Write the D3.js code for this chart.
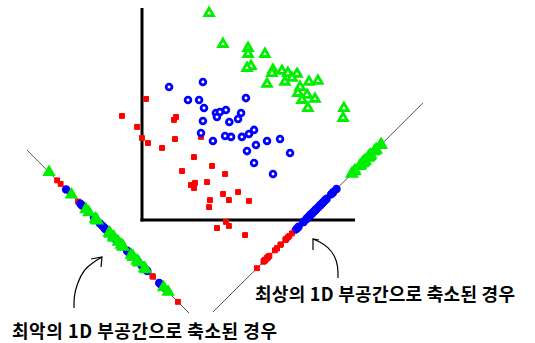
<!DOCTYPE html>
<html>
<head>
<meta charset="utf-8">
<script src="https://cdn.jsdelivr.net/npm/d3@7"></script>
<style>
body{margin:0;background:#fff;}
</style>
</head>
<body>
<div id="container"></div>
<script>
let w = 535;
let h = 343;

// class 1 (red crosses)
let redX = [0.19,-0.94,1.60,1.50,-0.23,0.00,0.28,0.94,1.55,2.77,2.44,3.29,1.88,3.90,2.49,2.30,2.44,3.05,3.80,4.51,3.19,4.08,5.02,3.15,3.94,4.08,3.52,4.84];
let redY = [5.71,4.91,4.86,4.72,4.39,3.87,3.63,3.40,3.82,3.92,2.97,2.55,2.31,2.17,1.75,1.65,1.51,1.79,1.23,1.32,0.94,0.94,0.90,0.61,-0.09,-0.28,-0.38,-0.71];

// class 2 (blue circles)
let blueX = [1.27,2.86,2.16,2.68,2.91,4.88,3.47,3.52,3.66,3.94,4.65,4.51,2.86,4.10,2.77,3.33,3.90,4.18,4.69,5.02,5.26,4.93,5.35,5.87,6.48,6.95,5.26,6.15];
let blueY = [6.27,6.51,5.66,5.66,5.28,5.75,5.05,4.86,5.09,5.19,5.05,4.76,4.67,4.62,4.10,3.73,3.96,3.92,3.92,4.06,4.25,3.25,3.54,3.73,3.82,3.16,2.69,2.17];

// class 3 (green triangles)
let greenX = [3.15,3.80,4.98,4.98,5.77,5.12,4.93,6.15,6.57,6.85,7.28,6.10,7.04,6.71,5.87,7.84,8.26,7.42,7.32,7.75,7.51,8.12,7.79,9.48,9.44];
let greenY = [9.76,8.30,8.11,7.83,7.83,7.26,7.17,7.08,7.03,6.93,6.89,6.93,6.70,6.51,6.42,6.51,6.56,6.27,5.99,5.90,5.66,5.71,5.28,5.28,4.81];

let labelBest = "최상의 1D 부공간으로 축소된 경우";
let labelWorst = "최악의 1D 부공간으로 축소된 경우";

let viz = d3.select("#container").append("svg")
    .attr("width", w)
    .attr("height", h)
    .style("background-color", "white");

// SCALES
let xScale = d3.scaleLinear().domain([0, 10]).range([142, 355]);
let yScale = d3.scaleLinear().domain([0, 10]).range([220, 8]);

let classes = [
  {x: redX, y: redY, color: "#ff0000", type: d3.symbolSquare, size: 24, hollow: false},
  {x: blueX, y: blueY, color: "#0000ff", type: d3.symbolCircle, size: 26, hollow: true},
  {x: greenX, y: greenY, color: "#00ee00", type: d3.symbolTriangle, size: 32, hollow: true}
];
classes.forEach(function(c){
  c.points = c.x.map(function(d, i){ return [xScale(d), yScale(c.y[i])]; });
});

// projection lines (data units)
let bestLine = [[3.33, -4.34], [13.19, 5.52]].map(function(d){ return [xScale(d[0]), yScale(d[1])]; });
let worstLine = [[-5.40, 3.30], [2.21, -4.39]].map(function(d){ return [xScale(d[0]), yScale(d[1])]; });

function project(p, a, b){
  let dx = b[0] - a[0], dy = b[1] - a[1];
  let t = ((p[0] - a[0]) * dx + (p[1] - a[1]) * dy) / (dx * dx + dy * dy);
  return [a[0] + t * dx, a[1] + t * dy];
}

// AXES
viz.append("line")
  .attr("x1", xScale(0)).attr("y1", yScale(10))
  .attr("x2", xScale(0)).attr("y2", yScale(0) + 1.5)
  .attr("stroke", "black").attr("stroke-width", 3);
viz.append("line")
  .attr("x1", xScale(0) - 1.5).attr("y1", yScale(0))
  .attr("x2", xScale(10)).attr("y2", yScale(0))
  .attr("stroke", "black").attr("stroke-width", 3);

// projection lines
[bestLine, worstLine].forEach(function(l){
  viz.append("line")
    .attr("x1", l[0][0]).attr("y1", l[0][1])
    .attr("x2", l[1][0]).attr("y2", l[1][1])
    .attr("stroke", "#555").attr("stroke-width", 1);
});

function drawMarks(points, c, solid){
  let hollow = c.hollow && !solid;
  viz.append("g").selectAll("path").data(points).enter()
    .append("path")
      .attr("d", d3.symbol().type(c.type).size(c.size))
      .attr("transform", function(d){ return "translate(" + d[0] + "," + d[1] + ")"; })
      .attr("fill", hollow ? "white" : c.color)
      .attr("stroke", c.color)
      .attr("stroke-width", c.hollow ? 2.8 : 1);
}

// projected points
[worstLine, bestLine].forEach(function(l){
  classes.forEach(function(c){
    drawMarks(c.points.map(function(p){ return project(p, l[0], l[1]); }), c, true);
  });
});

// scatter
classes.forEach(function(c){
  drawMarks(c.points, c, false);
});

// arrows
let curve = d3.line().curve(d3.curveBasis);
let arrows = [
  {path: [[74,308],[74,296],[77,284],[84,269],[95,261],[102,257]], head: [[91,259],[102,257],[101,267]]},
  {path: [[338,278],[338,266],[335,256],[328,247],[320,242],[313,239]], head: [[319,240],[313,239],[313,250]]}
];
arrows.forEach(function(a){
  viz.append("path").attr("d", curve(a.path))
    .attr("fill", "none").attr("stroke", "black").attr("stroke-width", 1.2);
  viz.append("path").attr("d", d3.line()(a.head))
    .attr("fill", "none").attr("stroke", "black").attr("stroke-width", 1.2);
});

// LABELS
viz.append("text")
  .attr("x", 255).attr("y", 301)
  .attr("font-family", "'Noto Sans CJK KR', sans-serif")
  .attr("font-size", 18)
  .attr("font-weight", "bold")
  .attr("textLength", 260)
  .attr("fill", "black")
  .text(labelBest);
viz.append("text")
  .attr("x", 12).attr("y", 338)
  .attr("font-family", "'Noto Sans CJK KR', sans-serif")
  .attr("font-size", 18)
  .attr("font-weight", "bold")
  .attr("textLength", 265)
  .attr("fill", "black")
  .text(labelWorst);
</script>
</body>
</html>
